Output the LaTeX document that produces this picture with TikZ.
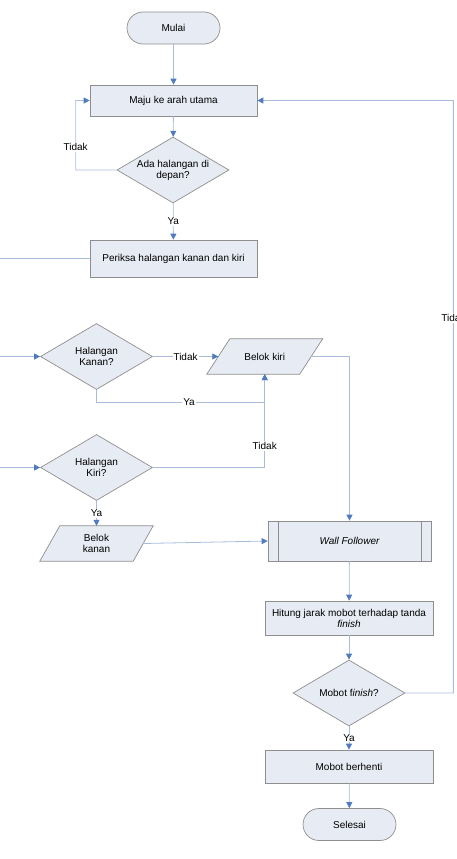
\documentclass[tikz,border=0pt]{standalone}
\usepackage{fontspec}
\setmainfont{Liberation Sans}
\usetikzlibrary{shapes.geometric,arrows.meta,backgrounds}
\definecolor{boxfill}{HTML}{E7EBF3}
\definecolor{boxline}{HTML}{8E8E8E}
\definecolor{lineblue}{HTML}{A9BCDD}
\definecolor{tipblue}{HTML}{4F7CC0}
\tikzset{
  every node/.style={font=\fontsize{10bp}{11bp}\selectfont, text=black},
  shapeline/.style={draw=boxline, fill=boxfill, line width=0.7bp},
  term/.style={shapeline, rectangle, rounded corners=16bp, minimum width=93bp, minimum height=32bp},
  proc/.style={shapeline, rectangle, minimum width=167bp, align=center},
  dec/.style={shapeline, diamond, minimum width=112bp, minimum height=66bp, inner sep=0pt},
  para/.style={rectangle, minimum width=93bp, minimum height=35bp, inner sep=0pt, align=center},
  conn/.style={draw=lineblue, line width=0.8bp},
  arr/.style={conn, -{Triangle[length=6bp,width=6bp,color=tipblue]}},
  lbl/.style={fill=white, inner sep=1bp}
}
\begin{document}
\begin{tikzpicture}[x=1bp,y=-1bp]
\useasboundingbox (0,0) rectangle (457,859);
\clip (0,0) rectangle (457,859);

\node[term] (start) at (173.5,28) {Mulai};
\node[proc, minimum height=31bp] (maju) at (173.5,100.5) {Maju ke arah utama};
\node[dec, label={[align=center]center:{Ada halangan di\\depan?}}] (ada) at (173,170) {};
\node[proc, minimum height=37bp] (periksa) at (173.5,258.5) {Periksa halangan kanan dan kiri};
\node[dec, label={[align=center]center:{Halangan\\Kanan?}}] (kanan) at (96.5,356.5) {};
\node[para, minimum width=92.5bp] (bkiri) at (264.75,356.5) {Belok kiri};
\node[dec, label={[align=center]center:{Halangan\\Kiri?}}] (kiri) at (96.5,467.5) {};
\node[para] (bkanan) at (96.5,543.5) {Belok\\kanan};
\node[proc, minimum width=163bp, minimum height=40bp] (wf) at (349.5,541) {\itshape Wall Follower};
\node[proc, minimum width=168bp, minimum height=34bp] (hitung) at (349,618) {Hitung jarak mobot terhadap tanda\\\textit{finish}};
\node[dec, label={[align=center]center:{Mobot f\textit{inish}?}}] (fin) at (349,693) {};
\node[proc, minimum width=168bp, minimum height=33bp] (stop) at (349,766.5) {Mobot berhenti};
\node[term] (end) at (349.5,824.5) {Selesai};

\begin{scope}[on background layer]
\path[shapeline] ([xshift=11.5bp]bkiri.north west) -- ([xshift=11.5bp]bkiri.north east)
  -- ([xshift=-11.5bp]bkiri.south east) -- ([xshift=-11.5bp]bkiri.south west) -- cycle;
\path[shapeline] ([xshift=10bp]bkanan.north west) -- ([xshift=10bp]bkanan.north east)
  -- ([xshift=-10bp]bkanan.south east) -- ([xshift=-10bp]bkanan.south west) -- cycle;
\end{scope}
\draw[boxline, line width=0.7bp] ([xshift=11bp]wf.north west) -- ([xshift=11bp]wf.south west);
\draw[boxline, line width=0.7bp] ([xshift=-10bp]wf.north east) -- ([xshift=-10bp]wf.south east);

\coordinate (edgeP) at (0,258.5);
\coordinate (edgeK) at (0,356.5);
\coordinate (edgeL) at (0,467.5);

\draw[arr] (start) -- (maju);
\draw[arr] (maju) -- (ada);
\draw[arr] (ada) -- node[lbl]{Ya} (periksa);
\draw[arr] (ada.west) -- ++(-41,0) -- node[lbl,pos=0.33]{Tidak} ++(0,-69.5) -- (maju.west);
\draw[conn] (periksa.west) -- (edgeP);
\draw[arr] (edgeK) -- (kanan.west);
\draw[arr] (edgeL) -- (kiri.west);
\draw[arr] (kanan.east) -- node[lbl]{Tidak} (bkiri.west);
\draw[arr] (kanan.south) -- ++(0,12.5) -| node[lbl,pos=0.275]{Ya} (bkiri.south);
\draw[arr] (kiri.east) -| node[lbl,pos=0.615]{Tidak} (bkiri.south);
\draw[arr] (kiri) -- node[lbl]{Ya} (bkanan);
\draw[arr] (bkiri.east) -| (wf.north);
\draw[arr] (bkanan.east) -- (wf.west);
\draw[arr] (wf) -- (hitung);
\draw[arr] (hitung) -- (fin);
\draw[arr] (fin) -- node[lbl]{Ya} (stop);
\draw[arr] (stop) -- (end);
\draw[arr] (fin.east) -- ++(48,0) -- node[lbl,pos=0.633]{Tidak} ++(0,-592.5) -- (maju.east);
\end{tikzpicture}
\end{document}
